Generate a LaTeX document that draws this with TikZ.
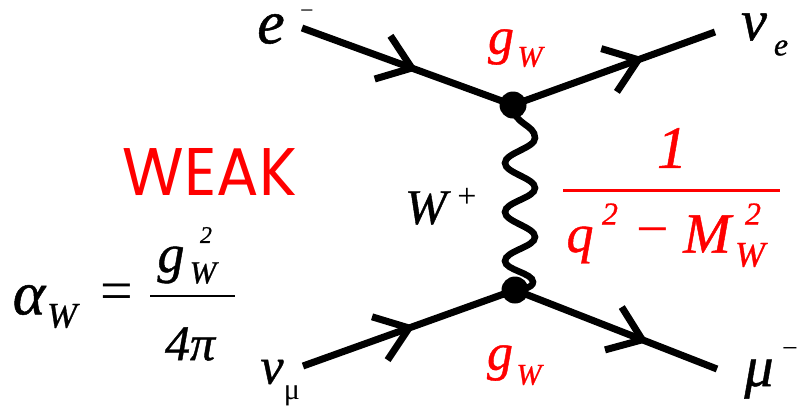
\documentclass[tikz,border=0pt]{standalone}
\usepackage{fontspec}
\setmainfont{Liberation Serif}[ItalicFeatures={FakeBold=0.8}]
\newfontfamily\weakfont{Poppins}
\usetikzlibrary{decorations.markings}
\definecolor{wred}{RGB}{255,0,0}
\newcommand\fsz[1]{\fontsize{#1}{#1}\selectfont}
\begin{document}
\begin{tikzpicture}[x=1pt,y=-1pt,
  lbl/.style={inner sep=0pt, outer sep=0pt, font=\fsz{#1}\itshape},
  up/.style={inner sep=0pt, outer sep=0pt, font=\fsz{#1}},
  fermion/.style={line width=7pt, postaction={decorate},
    decoration={markings, mark=at position #1 with {\draw[line width=7pt, line join=miter, line cap=butt] (-31pt,23pt) -- (0pt,0pt) -- (-31pt,-23pt);}}},
  vtx/.style={circle, fill=black, minimum size=27pt, inner sep=0pt},
  boson/.style={line width=6.5pt, line cap=round}
]
\fill[white] (0,0) rectangle (799,407);
\useasboundingbox (0,0) rectangle (799,407);

% vertices and free ends
\coordinate (v1) at (513,105);
\coordinate (v2) at (515,290);
\coordinate (eIn) at (302,28);
\coordinate (nueOut) at (715,32);
\coordinate (numuIn) at (303,366);
\coordinate (muOut) at (717,369);

% fermion lines
\draw[fermion=0.52] (eIn) -- (v1);
\draw[fermion=0.62] (v1) -- (nueOut);
\draw[fermion=0.5] (numuIn) -- (v2);
\draw[fermion=0.63] (v2) -- (muOut);

% W boson
\draw[boson] (v1) .. controls (513,125) and (535,124) .. (535,138)
  .. controls (535,148) and (505,153) .. (505,163)
  .. controls (505,173) and (535,178) .. (535,188)
  .. controls (535,198) and (505,202) .. (505,212)
  .. controls (505,222) and (535,227) .. (535,237)
  .. controls (535,247) and (505,251) .. (505,261)
  .. controls (505,270) and (533,273) .. (533,282)
  .. controls (533,288) and (520,290) .. (v2);

\node[vtx] (d1) at (v1) {};
\node[vtx] (d2) at (v2) {};

% particle labels
\node[lbl=62] (e) at (271,29) {e};
\node[up=24] (em) at (307,14) {−};
\node[lbl=58] (nue) at (754,27) {ν};
\node[lbl=32] (nuesub) at (781,48) {e};
\node[lbl=52] (nm) at (272,372) {ν};
\node[up=30] (nmsub) at (292,396) {μ};
\node[lbl=58] (mu) at (759,379) {μ};
\node[up=28] (mum) at (790,352) {−};

% couplings
\node[lbl=52, text=wred] (g1) at (501,47) {g};
\node[lbl=30, text=wred] (g1s) at (530,57) {W};
\node[lbl=52, text=wred] (g2) at (500,363) {g};
\node[lbl=30, text=wred] (g2s) at (529,375) {W};

% W+
\node[lbl=50] (W) at (426,208) {W};
\node[up=34] (Wp) at (467,198) {+};

% propagator
\node[lbl=60, text=wred] (one) at (672,148) {1};
\coordinate (pb1) at (563,190);
\coordinate (pb2) at (780,190);
\draw[wred, line width=3pt] (pb1) -- (pb2);
\node[lbl=54, text=wred] (q) at (580,245) {q};
\node[lbl=32, text=wred] (q2) at (610,214) {2};
\node[up=58, text=wred] (minus) at (653,238) {−};
\node[lbl=57, text=wred] (M) at (707,234) {M};
\node[lbl=32, text=wred] (M2) at (753,214) {2};
\node[lbl=36, text=wred] (MW) at (750,255) {W};

% WEAK
\node[inner sep=0pt, text=wred] (weak) at (210,172) {\resizebox{174pt}{47pt}{\weakfont WEAK}};

% alpha_W
\node[lbl=62] (alpha) at (29,300) {α};
\node[lbl=36] (alphaW) at (62,316) {W};
\node[up=58] (eq) at (117,297) {=};
\coordinate (ab1) at (150,296);
\coordinate (ab2) at (235,296);
\draw[line width=2.5pt] (ab1) -- (ab2);
\node[lbl=54] (gn) at (171,265) {g};
\node[lbl=32] (gnW) at (203,273) {W};
\node[lbl=24] (gn2) at (206,235) {2};
\node[lbl=50] (fourpi) at (190,344) {4π};
\end{tikzpicture}
\end{document}
